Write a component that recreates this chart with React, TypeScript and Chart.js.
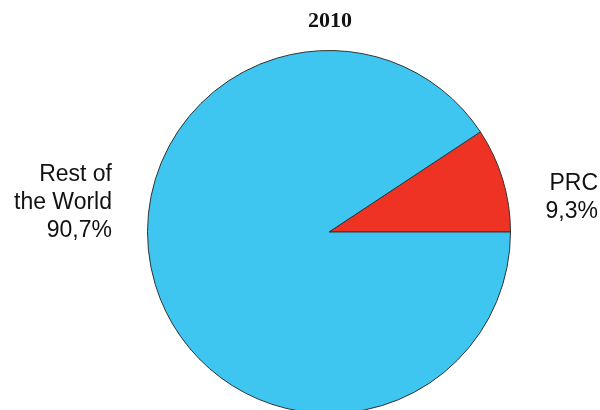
import React, { useEffect, useRef } from "react";
import { Chart, registerables } from "chart.js";

Chart.register(...registerables);

const categories = ["PRC", "Rest of the World"];
const values = [9.3, 90.7];
const valueLabels = ["9,3%", "90,7%"];
const colors = ["#EE3224", "#3EC6F0"];
const title = "2010";

const labelsPlugin = {
  id: "sideLabels",
  afterDraw(chart: any) {
    const ctx = chart.ctx;
    ctx.save();
    ctx.fillStyle = "#111";
    ctx.font = "bold 22px 'Liberation Serif', 'Times New Roman', serif";
    ctx.textAlign = "center";
    ctx.textBaseline = "middle";
    ctx.fillText(title, 330, 21);

    ctx.font = "23px 'Liberation Sans', Arial, sans-serif";
    ctx.textAlign = "right";
    ctx.fillStyle = "#111";
    // Rest of the World
    ctx.fillText("Rest of", 112, 175);
    ctx.fillText("the World", 112, 203);
    ctx.fillText(valueLabels[1], 112, 231);
    // PRC
    ctx.fillText(categories[0], 598, 184);
    ctx.fillText(valueLabels[0], 598, 212);
    ctx.restore();
  },
};

export default function App() {
  const ref = useRef<HTMLCanvasElement>(null);
  useEffect(() => {
    document.body.style.margin = "0";
    const total = values.reduce((a, b) => a + b, 0);
    const rotation = 90 - (values[0] / total) * 360;
    const chart = new Chart(ref.current!, {
      type: "pie",
      data: {
        labels: categories,
        datasets: [
          {
            data: values,
            backgroundColor: colors,
            borderColor: "#333333",
            borderWidth: 1,
          },
        ],
      },
      options: {
        animation: false,
        responsive: false,
        rotation,
        layout: { padding: { top: 50, left: 147, right: 89, bottom: 6 } },
        plugins: {
          legend: { display: false },
          tooltip: { enabled: false },
          title: { display: false },
        },
      },
      plugins: [labelsPlugin],
    });
    return () => chart.destroy();
  }, []);
  return (
    <div style={{ width: 600, height: 410, overflow: "hidden", background: "#fff" }}>
      <canvas ref={ref} width={600} height={420} style={{ display: "block" }} />
    </div>
  );
}
